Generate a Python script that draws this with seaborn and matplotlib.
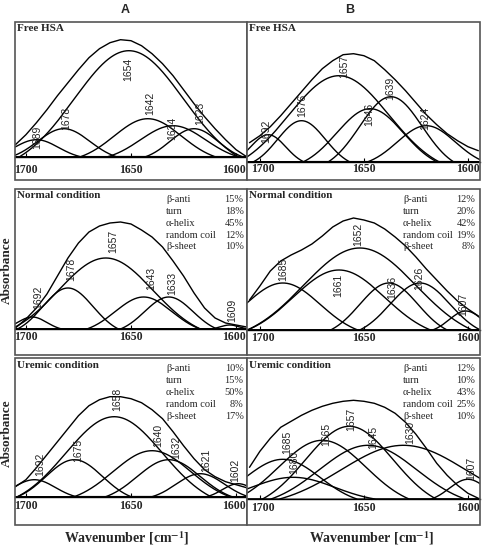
import numpy as np
import pandas as pd
import seaborn as sns
import matplotlib.pyplot as plt
from matplotlib.patches import Rectangle

sns.set_theme(style='white')
plt.rcParams['font.family'] = ['Liberation Serif', 'DejaVu Serif']
plt.rcParams['mathtext.fontset'] = 'stix'

#%% Data (heights in pixels above the baseline)

# wavenumbers where the fitted envelope was read
grid_wn = [1705, 1700, 1695, 1690, 1685, 1680, 1675, 1670, 1665, 1660, 1655, 1650,
           1645, 1640, 1635, 1630, 1625, 1620, 1615, 1610, 1605, 1600, 1595]
tick_wn = [1700, 1650, 1600]

# Free HSA, A
free_a_bands = ['1689', '1678', '1654', '1642', '1634', '1623']
free_a_center = [1695, 1682, 1651, 1642, 1630, 1620]
free_a_height = [17, 28, 106, 38, 31, 28]
free_a_width = [21, 25, 52, 32, 31, 23]
free_a_sum = [12, 22, 34, 47, 61, 74, 87, 99, 108, 114, 117, 116, 111, 103, 93, 81, 67, 53, 40, 28, 17, 7, 0]

# Free HSA, B
free_b_bands = ['1692', '1676', '1657', '1646', '1639', '1624']
free_b_center = [1696, 1680, 1662, 1647, 1637, 1620]
free_b_height = [27, 41, 86, 53, 65, 36]
free_b_width = [17, 23, 48, 32, 30, 28]
free_b_sum = [19, 26, 35, 46, 58, 70, 82, 93, 101, 107, 108, 106, 101, 92, 82, 71, 59, 47, 37, 28, 21, 15, 11]

# Normal condition, A
normal_a_bands = ['1692', '1678', '1657', '1643', '1633', '1609']
normal_a_center = [1697, 1680, 1662, 1644, 1632, 1603]
normal_a_height = [12, 41, 71, 32, 32, 4]
normal_a_width = [14, 24, 45, 27, 23, 9]
normal_a_sum = [1, 10, 21, 35, 53, 71, 86, 97, 103, 106, 107, 105, 99, 92, 82, 68, 53, 36, 21, 11, 6, 4, 2]

# Normal condition, B
normal_b_bands = ['1685', '1661', '1652', '1636', '1626', '1607']
normal_b_center = [1689, 1662, 1652, 1638, 1623, 1601]
normal_b_height = [47, 60, 82, 47, 47, 19]
normal_b_width = [36, 44, 54, 28, 29, 16]
normal_b_sum = [30, 44, 59, 69, 75, 80, 86, 94, 103, 109, 112, 110, 107, 101, 93, 84, 73, 61, 50, 39, 29, 21, 14]

# Uremic condition, A
uremic_a_bands = ['1692', '1675', '1658', '1640', '1632', '1621', '1602']
uremic_a_center = [1696, 1677, 1658, 1640, 1632, 1617, 1599]
uremic_a_height = [17, 37, 80, 46, 37, 23, 13]
uremic_a_width = [20, 27, 46, 37, 30, 23, 15]
uremic_a_sum = [10, 17, 29, 42, 55, 68, 81, 91, 97, 100, 100, 98, 94, 87, 78, 65, 51, 38, 27, 20, 15, 12, 9]

# Uremic condition, B
uremic_b_bands = ['1685', '1680', '1665', '1657', '1645', '1630', '1607']
uremic_b_center = [1689, 1684, 1670, 1657, 1648, 1631, 1600]
uremic_b_height = [40, 22, 59, 73, 54, 54, 20]
uremic_b_width = [36, 40, 42, 42, 47, 60, 18]
uremic_b_sum = [32, 48, 61, 72, 78, 84, 89, 93, 96, 98, 99, 98, 96, 92, 86, 77, 65, 51, 36, 24, 14, 6, 1]

# secondary structure content (%)
structures = ['\u03b2-anti', 'turn', '\u03b1-helix', 'random coil', '\u03b2-sheet']
normal_a_pct = [15, 18, 45, 12, 10]
normal_b_pct = [12, 20, 42, 19, 8]
uremic_a_pct = [10, 15, 50, 8, 17]
uremic_b_pct = [12, 10, 43, 25, 10]

#%% Layout (pixels of the 484x550 picture)
W, H = 484, 550
col_x = {'A': (15, 232), 'B': (247, 233)}
row_y = [(22, 158), (189, 166), (358, 167)]
baseline_px = {('A', 0): 156.7, ('B', 0): 161.7, ('A', 1): 329, ('B', 1): 330,
               ('A', 2): 496.7, ('B', 2): 499.3}
xlims = {'A': (1705.2, 1594.8), 'B': (1706.2, 1594.2)}
tick_pad = {('A', 0): 5.5, ('B', 0): 1.2, ('A', 1): 1.8, ('B', 1): 1.2,
            ('A', 2): 2.2, ('B', 2): 1.6}
# small sideways nudges (points) so neighbouring tick labels do not collide
tick_nudge = {'A': [0, 0, -1.8], 'B': [1.8, 0, 0]}

# peak label anchors (wavenumber, height)
label_pos = {
    ('A', 0): ([1694.8, 1680.8, 1651.2, 1640.8, 1630.5, 1616.9], [19, 38, 87, 53, 28, 43]),
    ('B', 0): ([1696.8, 1679.7, 1659.4, 1647.3, 1637.3, 1620.3], [30, 56, 95, 47, 73, 43]),
    ('A', 1): ([1694.0, 1678.4, 1658.4, 1640.4, 1630.2, 1601.9], [32, 60, 88, 51, 46, 19]),
    ('B', 1): ([1689.0, 1662.3, 1652.8, 1636.3, 1623.3, 1602.5], [61, 45, 96, 43, 52, 26]),
    ('A', 2): ([1693.3, 1675.3, 1656.5, 1636.9, 1628.3, 1614.2, 1600.5], [32, 46, 97, 61, 49, 36, 26]),
    ('B', 2): ([1686.7, 1683.5, 1668.3, 1656.0, 1645.3, 1627.7, 1598.6], [57, 37, 65, 80, 62, 67, 31]),
}

panels = [
    ('A', 0, 'Free HSA', free_a_bands, free_a_center, free_a_height, free_a_width, free_a_sum, None),
    ('B', 0, 'Free HSA', free_b_bands, free_b_center, free_b_height, free_b_width, free_b_sum, None),
    ('A', 1, 'Normal condition', normal_a_bands, normal_a_center, normal_a_height, normal_a_width, normal_a_sum, normal_a_pct),
    ('B', 1, 'Normal condition', normal_b_bands, normal_b_center, normal_b_height, normal_b_width, normal_b_sum, normal_b_pct),
    ('A', 2, 'Uremic condition', uremic_a_bands, uremic_a_center, uremic_a_height, uremic_a_width, uremic_a_sum, uremic_a_pct),
    ('B', 2, 'Uremic condition', uremic_b_bands, uremic_b_center, uremic_b_height, uremic_b_width, uremic_b_sum, uremic_b_pct),
]


def band_shape(x, c, h, d):
    # gaussian component cut where it meets the baseline (half width d)
    s = d / 2.0
    g = np.exp(-(x - c) ** 2 / (2 * s ** 2))
    cut = np.exp(-2.0)
    return np.clip(h * (g - cut) / (1 - cut), 0, None)


#%% Plot
fig = plt.figure(figsize=(W / 100, H / 100), dpi=100)
wn = np.linspace(1710, 1590, 700)

for col, row, title, bands, centers, heights, widths, total, pct in panels:
    x0, w = col_x[col]
    y0, h = row_y[row]
    ax = fig.add_axes([x0 / W, 1 - (y0 + h) / H, w / W, h / H])
    base = baseline_px[(col, row)]

    frames = [pd.DataFrame({'wn': wn, 'absorbance': band_shape(wn, c, ht, d), 'band': b})
              for b, c, ht, d in zip(bands, centers, heights, widths)]
    frames.append(pd.DataFrame({'wn': grid_wn, 'absorbance': total, 'band': 'fit'}))
    df = pd.concat(frames, ignore_index=True)
    sns.lineplot(data=df, x='wn', y='absorbance', units='band', estimator=None,
                 color='black', lw=1.0, ax=ax)

    ax.set_xlim(*xlims[col])
    ax.set_ylim(-(y0 + h - base), base - y0)
    ax.set_xlabel('')
    ax.set_ylabel('')
    ax.set_yticks([])
    ax.set_xticks(tick_wn)
    ax.set_xticklabels([])
    ax.tick_params(axis='x', bottom=True, direction='in', length=3, width=0.8,
                   colors='black')
    for t, dx in zip(tick_wn, tick_nudge[col]):
        ax.annotate(str(t), xy=(t, 0), xytext=(dx, -tick_pad[(col, row)]),
                    textcoords='offset points', ha='center', va='top',
                    fontsize=8.5, fontweight='bold')
    for sp in ['top', 'left', 'right']:
        ax.spines[sp].set_visible(False)
    ax.spines['bottom'].set_position(('data', 0))
    ax.spines['bottom'].set_color('black')
    ax.spines['bottom'].set_linewidth(1.0)
    ax.add_patch(Rectangle((0, 0), 1, 1, transform=ax.transAxes, fill=False,
                           ec='#555555', lw=1.2, clip_on=False, zorder=5))

    ax.text(0.008, 0.985, title, transform=ax.transAxes, ha='left', va='top',
            fontsize=8, fontweight='bold')

    lx, ly = label_pos[(col, row)]
    for b, px, py in zip(bands, lx, ly):
        ax.text(px, py, b, rotation=90, ha='center', va='center', fontsize=7.5,
                family='Liberation Sans', color='#222222')

    if pct is not None:
        name_x = 0.651 if col == 'A' else 0.67
        for i, (s, p) in enumerate(zip(structures, pct)):
            yy = 0.935 - i * 0.071
            ax.text(name_x, yy, s, transform=ax.transAxes, fontsize=7.5,
                    ha='left', va='center')
            ax.text(0.985 if col == 'A' else 0.98, yy, f'{p}%', transform=ax.transAxes,
                    fontsize=7.5, ha='right', va='center')

fig.text(125 / W, 1 - 10 / H, 'A', ha='center', va='center', fontsize=9,
         fontweight='bold', family='Liberation Sans')
fig.text(350 / W, 1 - 10 / H, 'B', ha='center', va='center', fontsize=9,
         fontweight='bold', family='Liberation Sans')
for yc in [270, 433]:
    fig.text(7 / W, 1 - yc / H, 'Absorbance', rotation=90, ha='center', va='center',
             fontsize=9.5, fontweight='bold')
for xc in [127, 372]:
    fig.text(xc / W, 1 - 538 / H, r'Wavenumber [cm$^{\mathbf{-1}}$]', ha='center',
             va='center', fontsize=10, fontweight='bold')

fig.savefig('out.png', dpi=100)
